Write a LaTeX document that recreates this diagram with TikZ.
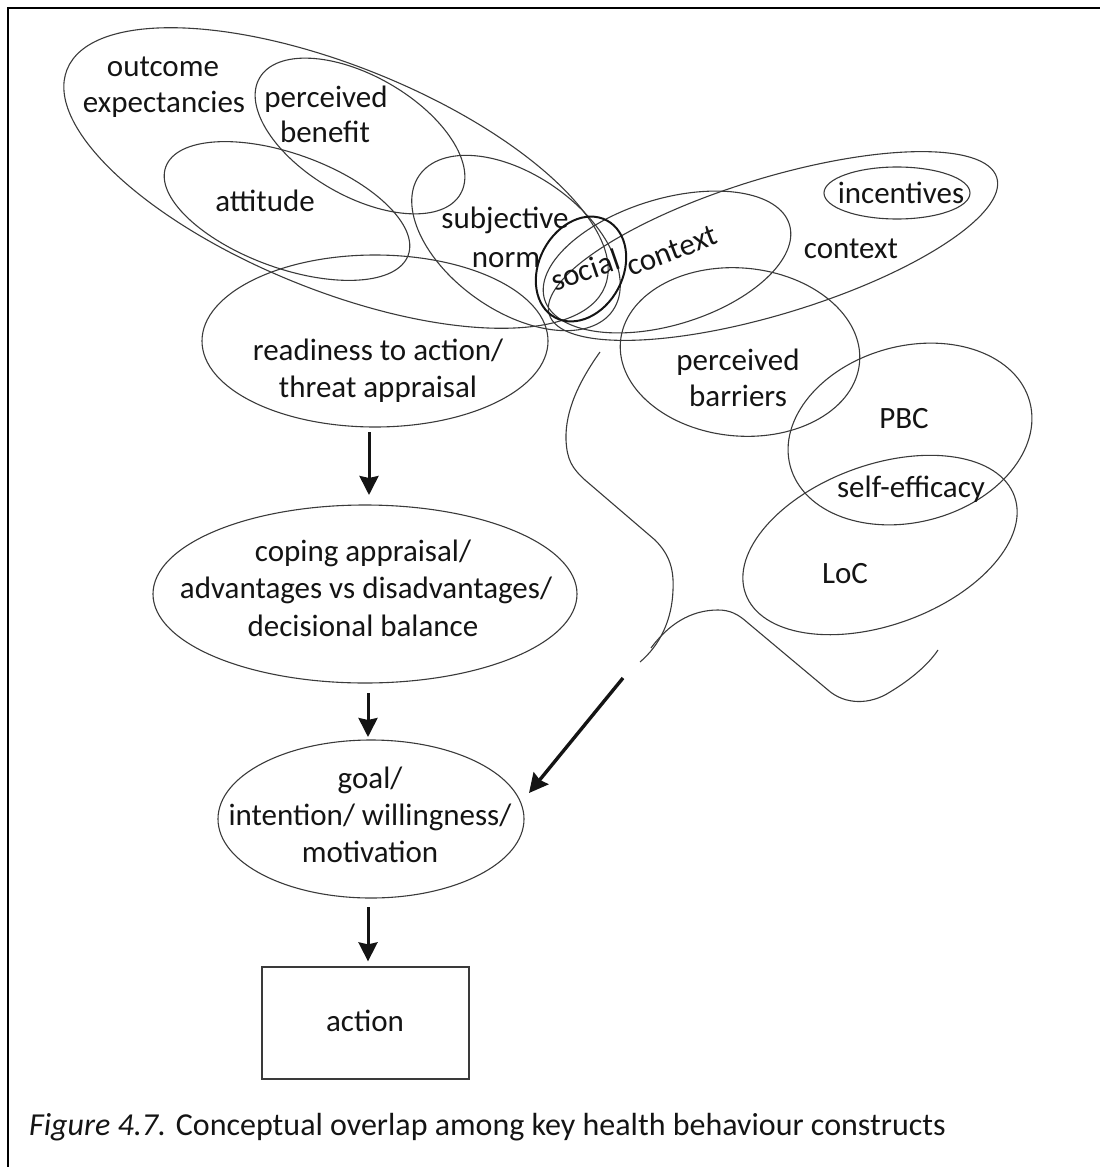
\documentclass[tikz,border=0pt]{standalone}
\usepackage{fontspec}
\setmainfont{Carlito}
\usetikzlibrary{shapes.geometric,arrows.meta}
\definecolor{ink}{HTML}{141414}
\definecolor{rim}{HTML}{3A3A3A}
\begin{document}
\begin{tikzpicture}[x=1pt,y=-1pt,
  ov/.style={ellipse, draw=rim, line width=1.1pt, inner sep=0pt, outer sep=0pt},
  lbl/.style={text=ink, font=\fontsize{31}{37}\selectfont, inner sep=0pt, anchor=base},
  flow/.style={-{Stealth[length=19pt,width=19pt,inset=2pt]}, line width=3pt, draw=ink},
  tail/.style={draw=rim, line width=1.1pt}]
\useasboundingbox (0,0) rectangle (1100,1167);
% page frame
\draw[line width=2.2pt] (8,1167) -- (8,8) -- (1100,8);

% overlapping construct ellipses
\node[ov, minimum width=580pt, minimum height=224pt, rotate=-22] (outcome) at (336,178) {};
\node[ov, minimum width=232pt, minimum height=120pt, rotate=-30] (benefit) at (360,136) {};
\node[ov, minimum width=258pt, minimum height=114pt, rotate=-20] (attitude) at (287,211) {};
\node[ov, minimum width=236pt, minimum height=136pt, rotate=-35] (subjnorm) at (516,243) {};
\node[ov, minimum width=256pt, minimum height=126pt, rotate=17] (socctx) at (667,262) {};
\node[ov, minimum width=468pt, minimum height=136pt, rotate=17] (context) at (773,246) {};
\node[ov, minimum width=146pt, minimum height=52pt] (incent) at (897,193) {};
\node[ov, minimum width=110pt, minimum height=84pt, rotate=62, line width=2pt, draw=ink] (social) at (581,269) {};
\node[ov, minimum width=346pt, minimum height=172pt] (ready) at (375,341) {};
\node[ov, minimum width=240pt, minimum height=168pt, rotate=-5] (barriers) at (740,352) {};
\node[ov, minimum width=248pt, minimum height=176pt, rotate=15] (pbc) at (910,434) {};
\node[ov, minimum width=286pt, minimum height=160pt, rotate=20] (loc) at (880,545) {};
\node[ov, minimum width=424pt, minimum height=178pt] (coping) at (365,594) {};
\node[ov, minimum width=306pt, minimum height=158pt] (goal) at (371,819) {};
\node[draw=rim, line width=1.3pt, minimum width=207pt, minimum height=112pt, inner sep=0pt] (action) at (365.5,1023) {};

% labels
\node[lbl] (t-out1) at (163,76) {outcome};
\node[lbl] (t-out2) at (164,112) {expectancies};
\node[lbl] (t-ben1) at (326,107) {perceived};
\node[lbl] (t-ben2) at (325,142) {benefit};
\node[lbl] (t-att) at (265,211) {attitude};
\node[lbl] (t-sub1) at (505,228) {subjective};
\node[lbl] (t-sub2) at (506,267) {norm};
\node[lbl, anchor=center, rotate=19] (t-soc) at (585,270) {social};
\node[lbl, anchor=center, rotate=21] (t-sctx) at (672,251) {context};
\node[lbl] (t-inc) at (901,203) {incentives};
\node[lbl] (t-ctx) at (851,258) {context};
\node[lbl] (t-rdy1) at (378,360) {readiness to action/};
\node[lbl] (t-rdy2) at (378,397) {threat appraisal};
\node[lbl] (t-bar1) at (738,370) {perceived};
\node[lbl] (t-bar2) at (738,406) {barriers};
\node[lbl] (t-pbc) at (904,428) {PBC};
\node[lbl] (t-se) at (911,497) {self-efficacy};
\node[lbl] (t-loc) at (845,583) {LoC};
\node[lbl] (t-cop1) at (363,561) {coping appraisal/};
\node[lbl] (t-cop2) at (366,598) {advantages vs disadvantages/};
\node[lbl] (t-cop3) at (363,636) {decisional balance};
\node[lbl] (t-gl1) at (370,788) {goal/};
\node[lbl] (t-gl2) at (370,825) {intention/ willingness/};
\node[lbl] (t-gl3) at (370,862) {motivation};
\node[lbl] (t-act) at (365,1031) {action};

% funnel-shaped outline gathering the context constructs
\draw[tail] (600,352) .. controls (580,380) and (565,410) .. (566,440)
  .. controls (567,460) and (572,468) .. (585,480) -- (655,540)
  .. controls (670,555) and (674,570) .. (673,590)
  .. controls (672,620) and (660,645) .. (640,662);
\draw[tail] (651,648) .. controls (668,625) and (690,610) .. (718,610)
  .. controls (730,610) and (738,614) .. (748,623) -- (828,690)
  .. controls (845,705) and (870,705) .. (890,692)
  .. controls (910,680) and (928,665) .. (938,650);
\coordinate (mouth) at (623,678);

% causal flow
\draw[flow] ([xshift=-6pt,yshift=-5pt]ready.south) -- ([xshift=4pt,yshift=10pt]coping.north);
\draw[flow] ([xshift=3pt,yshift=-10pt]coping.south) -- ([xshift=-3pt,yshift=3pt]goal.north);
\draw[flow] ([xshift=-3pt,yshift=-9pt]goal.south) -- ([xshift=2.5pt,yshift=5pt]action.north);
\draw[flow, line width=3.4pt] (mouth) -- ([xshift=5pt,yshift=26pt]goal.east);

% caption
\node[text=ink, font=\fontsize{32}{38}\selectfont, inner sep=0pt, anchor=base west] (caption) at (29,1135)
  {\textit{Figure 4.7.} Conceptual overlap among key health behaviour constructs};
\end{tikzpicture}
\end{document}
